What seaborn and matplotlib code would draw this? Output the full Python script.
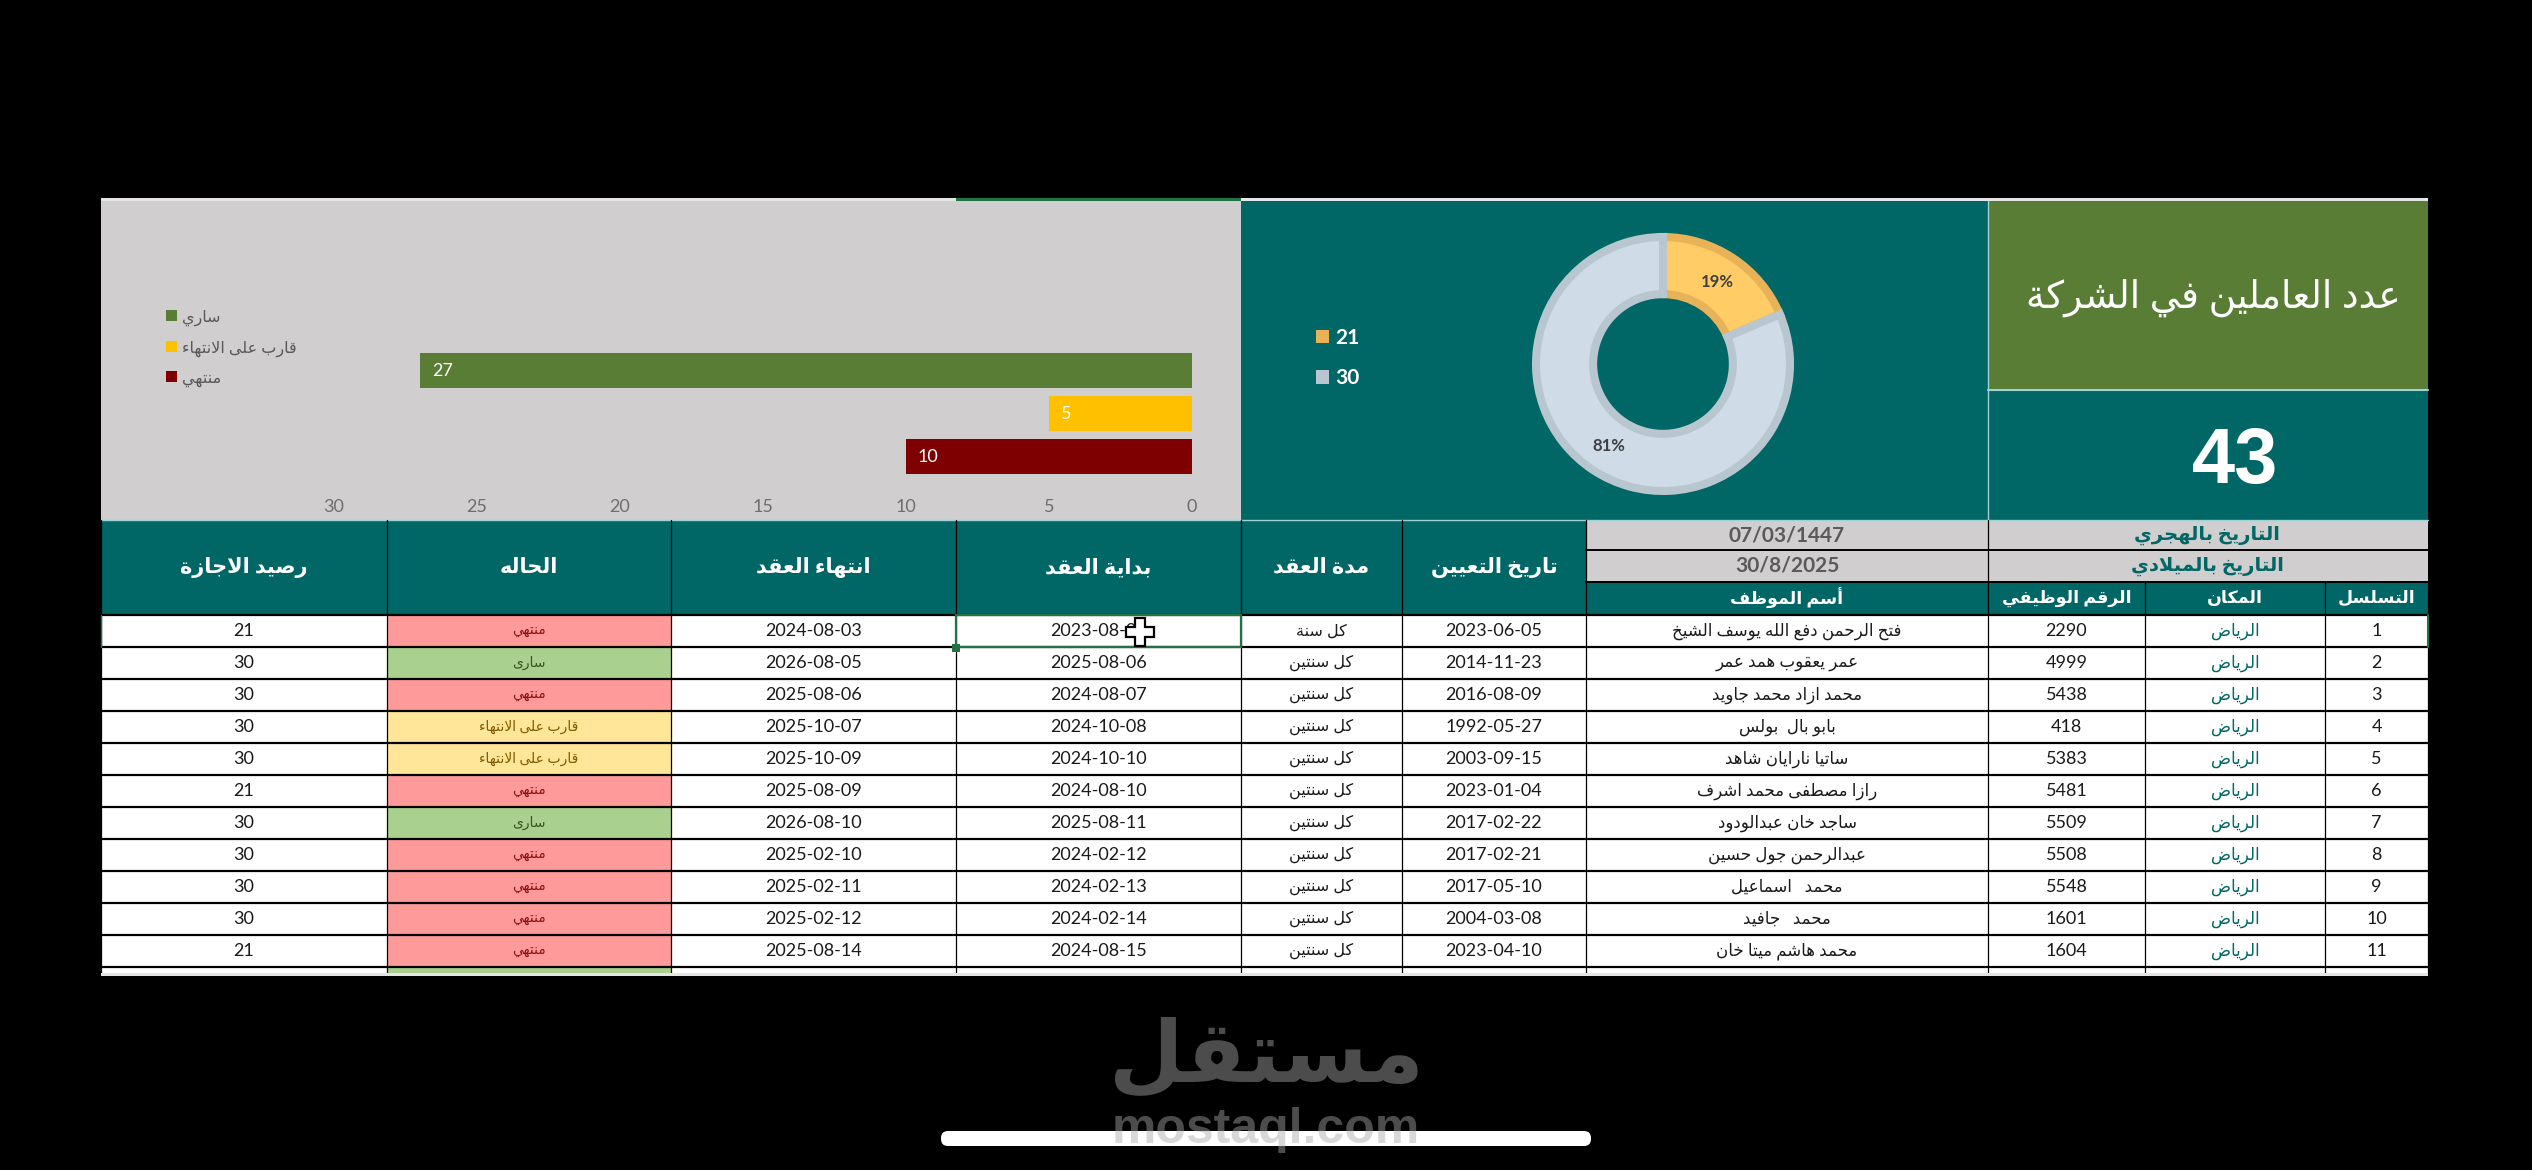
import unicodedata
import pandas as pd
import seaborn as sns
import matplotlib.pyplot as plt
from matplotlib.patches import Rectangle, FancyBboxPatch

# Values read from the sheet
seq = [1, 2, 3, 4, 5, 6, 7, 8, 9, 10, 11]
place = "الرياض"
job_no = [2290, 4999, 5438, 418, 5383, 5481, 5509, 5508, 5548, 1601, 1604]
names = ["فتح الرحمن دفع الله يوسف الشيخ", "عمر يعقوب همد عمر", "محمد ازاد محمد جاويد", "بابو بال  بولس",
         "ساتيا نارايان شاهد", "رازا مصطفى محمد اشرف", "ساجد خان عبدالودود", "عبدالرحمن جول حسين",
         "محمد   اسماعيل", "محمد   جافيد", "محمد هاشم ميتا خان"]
hire_date = ["2023-06-05", "2014-11-23", "2016-08-09", "1992-05-27", "2003-09-15", "2023-01-04",
             "2017-02-22", "2017-02-21", "2017-05-10", "2004-03-08", "2023-04-10"]
term = ["كل سنة"] + ["كل سنتين"] * 10
start_date = ["2023-08-04", "2025-08-06", "2024-08-07", "2024-10-08", "2024-10-10", "2024-08-10",
              "2025-08-11", "2024-02-12", "2024-02-13", "2024-02-14", "2024-08-15"]
end_date = ["2024-08-03", "2026-08-05", "2025-08-06", "2025-10-07", "2025-10-09", "2025-08-09",
            "2026-08-10", "2025-02-10", "2025-02-11", "2025-02-12", "2025-08-14"]
row_status = ["منتهي", "سارى", "منتهي", "قارب على الانتهاء", "قارب على الانتهاء", "منتهي",
              "سارى", "منتهي", "منتهي", "منتهي", "منتهي"]
leave = [21, 30, 30, 30, 30, 21, 30, 30, 30, 30, 21]

bar_status = ["ساري", "قارب على الانتهاء", "منتهي"]
bar_counts = [27, 5, 10]
bar_ticks = [0, 5, 10, 15, 20, 25, 30]
donut_labels = ["21", "30"]
donut_values = [8, 35]
title = "عدد العاملين في الشركة"
total = "43"
date_labels = ["التاريخ بالهجري", "التاريخ بالميلادي"]
date_values = ["07/03/1447", "30/8/2025"]
big_headers = ["رصيد الاجازة", "الحاله", "انتهاء العقد", "بداية العقد", "مدة العقد", "تاريخ التعيين"]
small_headers = ["أسم الموظف", "الرقم الوظيفي", "المكان", "التسلسل"]

# Colours
TEAL = "#006666"
OLIVE = "#5a7d35"
GREY = "#d0cece"
BAR_COLORS = ["#5a7d35", "#ffc000", "#7f0000"]
CELL_STYLE = {"منتهي": ("#ff9a9a", "#8c1010"), "سارى": ("#a9d08e", "#375623"),
              "قارب على الانتهاء": ("#ffe699", "#7f5a00")}

# Page layout of the sheet, in pixels
COL_X = [101, 387, 671, 956, 1241, 1402, 1586, 1988, 2145, 2325, 2428]
ROW_Y = [613 + 32 * i for i in range(12)]
SHEET_TOP, PANEL_BOTTOM, SHEET_BOTTOM = 199, 518, 971
RIGHT = COL_X[-1]
DY = 2


# matplotlib has no Arabic shaping, so pick the presentation forms and reverse
FORMS = {}
for cp in range(0xFE80, 0xFEFD):
    parts = unicodedata.decomposition(chr(cp)).split()
    if len(parts) >= 2:
        key = "".join(chr(int(p, 16)) for p in parts[1:])
        FORMS.setdefault(key, {})[parts[0]] = chr(cp)


def shape(text):
    tokens = []
    i = 0
    while i < len(text):
        if text[i:i + 2] in FORMS:
            tokens.append(text[i:i + 2])
            i += 2
        else:
            tokens.append(text[i])
            i += 1
    out = []
    for i, tok in enumerate(tokens):
        forms = FORMS.get(tok)
        if not forms:
            out.append(tok)
            continue
        prev_f = FORMS.get(tokens[i - 1], {}) if i > 0 else {}
        next_f = FORMS.get(tokens[i + 1], {}) if i + 1 < len(tokens) else {}
        join_prev = "<medial>" in prev_f and "<final>" in forms
        join_next = "<initial>" in forms and "<final>" in next_f
        if join_prev and join_next:
            out.append(forms["<medial>"])
        elif join_prev:
            out.append(forms["<final>"])
        elif join_next:
            out.append(forms["<initial>"])
        else:
            out.append(forms["<isolated>"])
    return "".join(reversed(out))


sns.set_theme(style="white")
plt.rcParams["font.family"] = ["Lato", "DejaVu Sans"]

W, H = 2532, 1170
fig = plt.figure(figsize=(W / 100, H / 100), dpi=100, facecolor="black")
page = fig.add_axes([0, 0, 1, 1])
page.set_xlim(0, W)
page.set_ylim(H - DY, -DY)
page.axis("off")


def box(x0, y0, x1, y1, color, **kw):
    page.add_patch(Rectangle((x0, y0), x1 - x0, y1 - y0, facecolor=color, edgecolor="none", **kw))


def label(x, y, s, size, color="#1a1a1a", weight="normal", **kw):
    page.text(x, y, s, fontsize=size, color=color, fontweight=weight, ha="center", va="center", **kw)


def px_axes(x0, y0, x1, y1):
    y0, y1 = y0 + DY, y1 + DY
    a = fig.add_axes([x0 / W, 1 - y1 / H, (x1 - x0) / W, (y1 - y0) / H])
    a.patch.set_alpha(0)
    return a


# Top panels
box(101, 196, RIGHT, SHEET_TOP, "#e6e6e6")
box(956, 196, 1241, 200, "#217346")
box(101, 199, 1241, PANEL_BOTTOM, GREY)
box(1241, 199, 1988, PANEL_BOTTOM, TEAL)
box(1988, 199, RIGHT, 388, OLIVE)
box(1988, 388, RIGHT, PANEL_BOTTOM, TEAL)
page.plot([1988, 1988], [199, 518], color="#9fd3d3", lw=1)
page.plot([1988, RIGHT], [388, 388], color="#9fd3d3", lw=1.5)
page.plot([101, RIGHT], [518, 518], color="#9fd3d3", lw=1)
label(2213, 296, shape(title), 27, color="white")
label(2235, 461, total, 56, color="white", weight="bold", family="Liberation Sans")

# Header band
box(101, 518, 1586, 613, TEAL)
box(1586, 518, RIGHT, 580, GREY)
box(1586, 580, RIGHT, 613, TEAL)
for i, head in enumerate(big_headers):
    label((COL_X[i] + COL_X[i + 1]) / 2, 565, shape(head), 15, color="white", weight="bold")
for i in range(2):
    y0 = 518 + 31 * i
    label(1787, y0 + 15, date_values[i], 15, color="#5a5a5a", weight="bold")
    label(2207, y0 + 15, shape(date_labels[i]), 14, color=TEAL, weight="bold")
for i, head in enumerate(small_headers):
    label((COL_X[6 + i] + COL_X[7 + i]) / 2, 596, shape(head), 12.5, color="white", weight="bold")

# Table body
box(101, 613, RIGHT, SHEET_BOTTOM, "white")
for i in range(11):
    y0, y1 = ROW_Y[i], ROW_Y[i + 1]
    yc = (y0 + y1) / 2
    fill, ink = CELL_STYLE[row_status[i]]
    box(COL_X[1], y0, COL_X[2], y1, fill)
    label((COL_X[0] + COL_X[1]) / 2, yc, str(leave[i]), 13)
    label((COL_X[1] + COL_X[2]) / 2, yc, shape(row_status[i]), 10, color=ink)
    label((COL_X[2] + COL_X[3]) / 2, yc, end_date[i], 13)
    label((COL_X[3] + COL_X[4]) / 2, yc, start_date[i], 13)
    label((COL_X[4] + COL_X[5]) / 2, yc, shape(term[i]), 11.5)
    label((COL_X[5] + COL_X[6]) / 2, yc, hire_date[i], 13)
    label((COL_X[6] + COL_X[7]) / 2, yc, shape(names[i]), 12)
    label((COL_X[7] + COL_X[8]) / 2, yc, str(job_no[i]), 13)
    label((COL_X[8] + COL_X[9]) / 2, yc, shape(place), 12, color=TEAL)
    label((COL_X[9] + COL_X[10]) / 2, yc, str(seq[i]), 13)
box(COL_X[1], ROW_Y[11], COL_X[2], SHEET_BOTTOM, CELL_STYLE["سارى"][0])

# Grid lines
for y in [548, 580]:
    page.plot([1586, RIGHT], [y, y], color="black", lw=1.4)
for y in ROW_Y:
    page.plot([101, RIGHT], [y, y], color="black", lw=1.6)
for x in COL_X:
    page.plot([x, x], [613, SHEET_BOTTOM], color="black", lw=0.9)
for x in COL_X[:7]:
    page.plot([x, x], [518, 613], color="black", lw=0.9)
for x in COL_X[7:]:
    page.plot([x, x], [580, 613], color="black", lw=0.9)
page.plot([1988, 1988], [518, 580], color="black", lw=0.9)
box(101, SHEET_BOTTOM, RIGHT, 974, "#e4e4e4", zorder=3)

# Selected cell and mouse cursor
page.add_patch(Rectangle((956, 613), 285, 32, fill=False, edgecolor="#217346", lw=1.6, zorder=4))
box(952, 642, 960, 650, "#217346", zorder=4)
page.plot([101, 101], [613, 645], color="#217346", lw=1, zorder=4)
page.plot([RIGHT, RIGHT], [613, 645], color="#217346", lw=1.5, zorder=4)
page.plot([1140], [630], marker="P", ms=20, mfc="white", mec="black", mew=1.6, zorder=5)

# Watermark and home bar
page.add_patch(FancyBboxPatch((941, 1129), 650, 15, boxstyle="round,pad=0,rounding_size=7",
                              facecolor="white", edgecolor="none"))
label(1266, 1056, shape("مستقل"), 62, color="#aaaaaa", weight="bold", alpha=0.45,
      family="DejaVu Sans")
label(1266, 1128, "mostaql.com", 36, color="#aaaaaa", weight="bold", alpha=0.45,
      family="Liberation Sans")

# Bar chart, 0 on the right
bar_df = pd.DataFrame({"status": [shape(s) for s in bar_status], "count": bar_counts})
bar_ax = px_axes(334, 347, 1192, 476)
sns.barplot(data=bar_df, x="count", y="status", hue="status", palette=BAR_COLORS, width=0.81,
            saturation=1, linewidth=0, ax=bar_ax, legend=True)
bar_ax.set_xlim(30, 0)
bar_ax.set_ylim(2.5, -0.5)
bar_ax.set_xlabel("")
bar_ax.set_ylabel("")
bar_ax.set_yticks([])
bar_ax.set_xticks(bar_ticks)
bar_ax.tick_params(axis="x", length=0, pad=15, labelsize=13, labelcolor="#6e6e6e")
sns.despine(ax=bar_ax, left=True, bottom=True)
for i, v in enumerate(bar_counts):
    bar_ax.annotate(str(v), (v, i), xytext=(12, 0), textcoords="offset pixels", color="white",
                    fontsize=13, va="center", ha="left")
bar_leg = bar_ax.legend(loc="center left", bbox_to_anchor=(166 / W, 1 - 348 / H),
                        bbox_transform=fig.transFigure, frameon=False, fontsize=11.5,
                        labelcolor="#595959", handlelength=0.7, handleheight=0.7,
                        handletextpad=0.3, labelspacing=0.91, borderpad=0, borderaxespad=0)
for h in bar_leg.legend_handles:
    h.set_linewidth(0)

# Donut
pie_ax = px_axes(1663 - 127, 362 - 127, 1663 + 127, 362 + 127)
edge_colors = ["#e8b358", "#b8c7cf"]
wedges, _, pct = pie_ax.pie(donut_values, startangle=90, counterclock=False, radius=1,
                            colors=["#ffcc66", "#cfdbe6"], autopct="%d%%", pctdistance=0.775,
                            wedgeprops={"width": 0.45, "linewidth": 5.8})
for w, edge in zip(wedges, edge_colors):
    w.set_edgecolor(edge)
for t in pct:
    t.set_fontsize(12)
    t.set_color("#404040")
    t.set_fontweight("bold")
pct[0].set_text("19%")
pct[1].set_text("81%")
pie_ax.set_xlim(-1, 1)
pie_ax.set_ylim(-1, 1)
pie_leg = pie_ax.legend(wedges, donut_labels, loc="center left", bbox_to_anchor=(1316 / W, 1 - 358 / H),
                        bbox_transform=fig.transFigure, frameon=False, labelcolor="white",
                        prop={"weight": "bold", "size": 15}, handlelength=0.6, handleheight=0.6,
                        handletextpad=0.3, labelspacing=1.0, borderpad=0, borderaxespad=0)
for h, edge in zip(pie_leg.legend_handles, edge_colors):
    h.set_linewidth(0)
    h.set_facecolor(edge)

fig.savefig("out.png", dpi=100, facecolor="black")
